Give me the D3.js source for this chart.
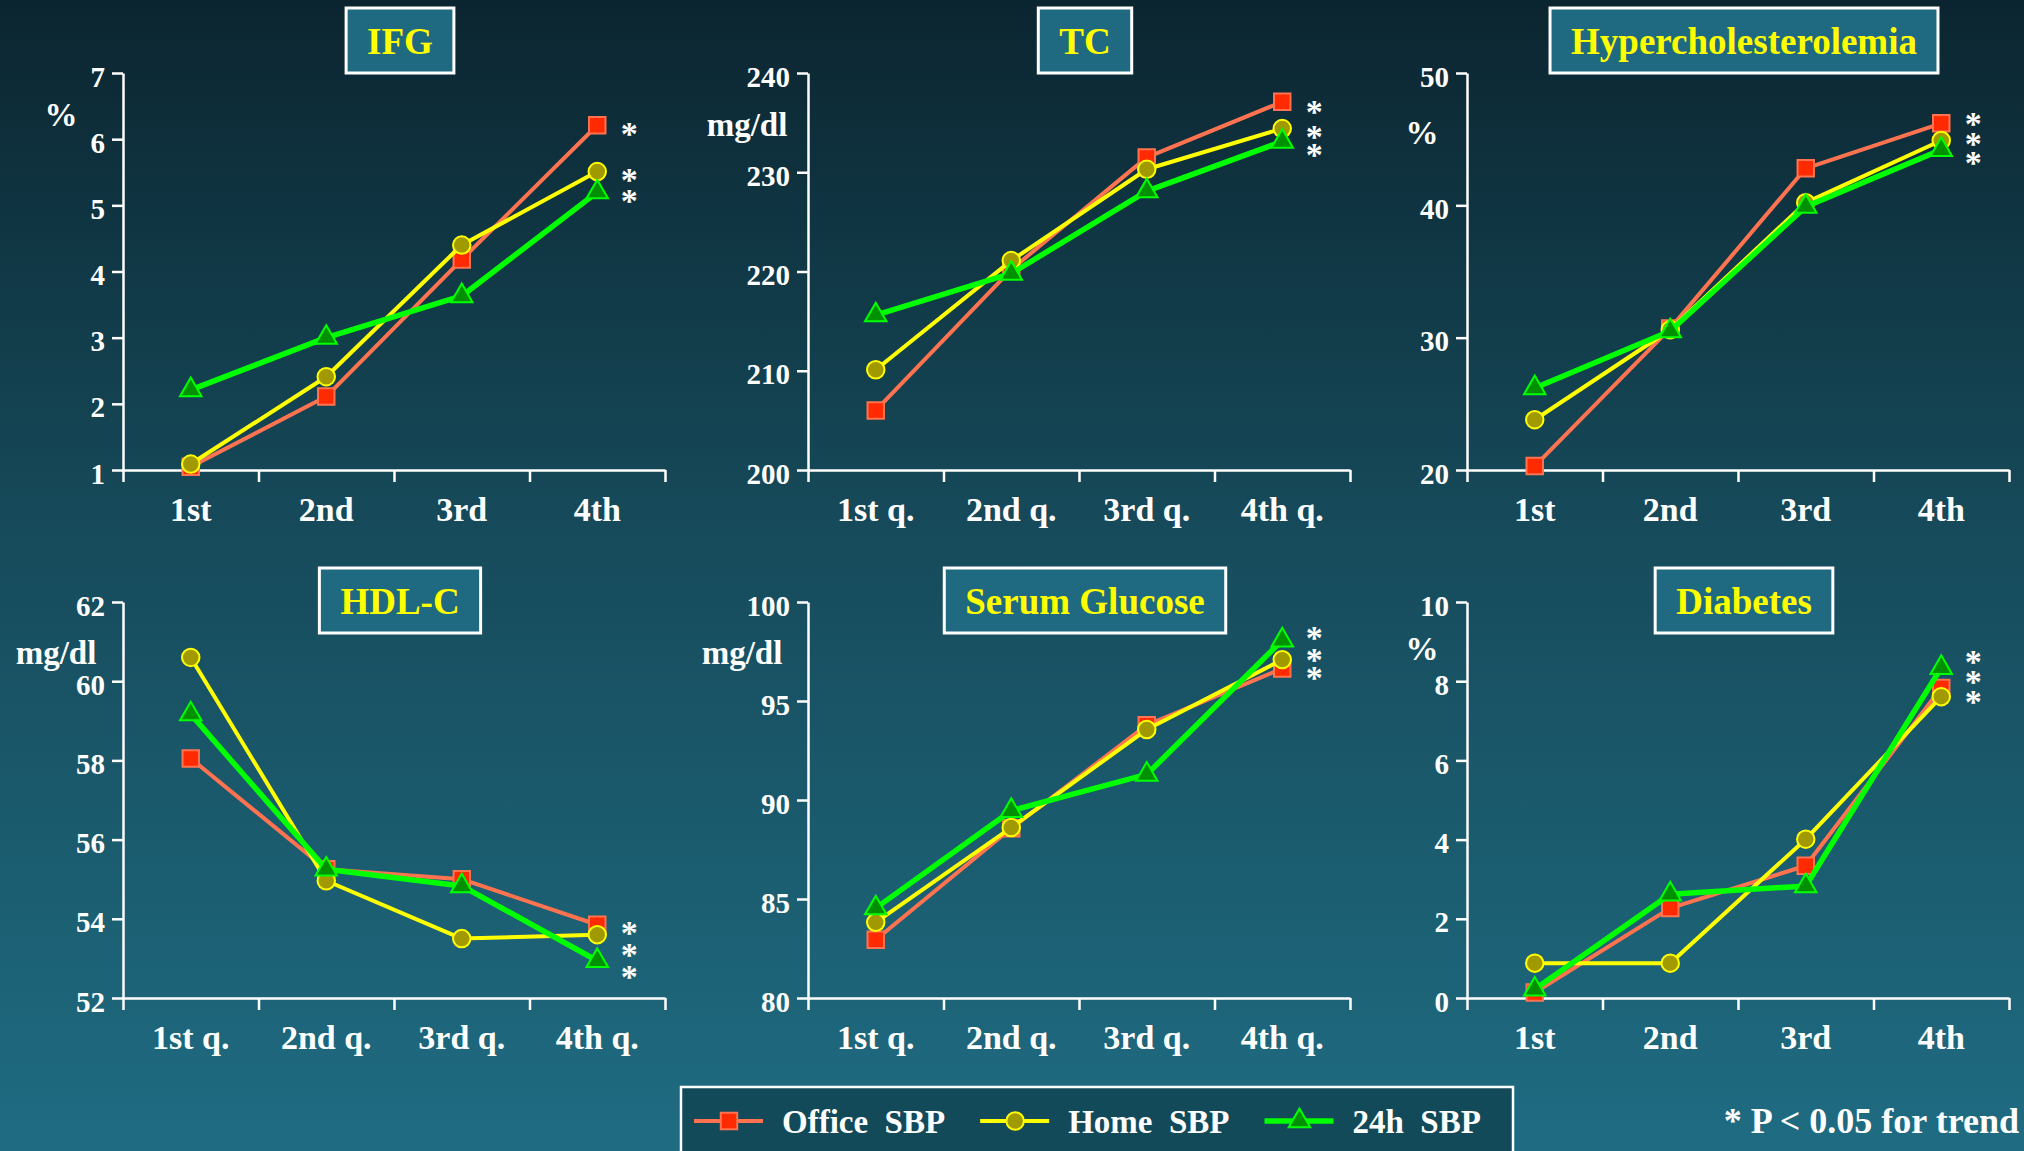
<!DOCTYPE html>
<html>
<head>
<meta charset="utf-8">
<script src="https://cdn.jsdelivr.net/npm/d3@7"></script>
<style>
  html, body { margin: 0; padding: 0; background: #134352; overflow: hidden; }
  text { font-family: "Liberation Serif", "Times New Roman", serif; font-weight: bold; }
</style>
</head>
<body>
<script>
var width = 2024;
var height = 1151;

// -- data --
var quartiles = ["1st", "2nd", "3rd", "4th"];
var quartilesQ = ["1st q.", "2nd q.", "3rd q.", "4th q."];
var seriesNames = ["Office  SBP", "Home  SBP", "24h  SBP"];

var ifgOffice = [1.05, 2.11, 4.18, 6.21];
var ifgHome = [1.09, 2.41, 4.40, 5.51];
var ifg24h = [2.21, 3.00, 3.63, 5.20];
var ifgTicks = [1, 2, 3, 4, 5, 6, 7];
var ifgStars = [6.15, 5.46, 5.14];

var tcOffice = [206.0, 220.2, 231.5, 237.1];
var tcHome = [210.1, 221.1, 230.3, 234.4];
var tc24h = [215.6, 219.8, 228.1, 233.1];
var tcTicks = [200, 210, 220, 230, 240];
var tcStars = [236.6, 234.1, 232.2];

var hypOffice = [20.3, 30.7, 42.8, 46.2];
var hypHome = [23.8, 30.6, 40.2, 44.9];
var hyp24h = [26.2, 30.5, 39.9, 44.2];
var hypTicks = [20, 30, 40, 50];
var hypStars = [46.5, 45.0, 43.6];

var hdlOffice = [58.05, 55.25, 55.0, 53.85];
var hdlHome = [60.6, 54.96, 53.5, 53.6];
var hdl24h = [59.17, 55.25, 54.83, 52.94];
var hdlTicks = [52, 54, 56, 58, 60, 62];
var hdlStars = [53.77, 53.21, 52.66];

var gluOffice = [82.94, 88.57, 93.78, 96.64];
var gluHome = [83.82, 88.61, 93.56, 97.09];
var glu24h = [84.54, 89.46, 91.29, 98.07];
var gluTicks = [80, 85, 90, 95, 100];
var gluStars = [98.43, 97.32, 96.41];

var dmOffice = [0.14, 2.27, 3.34, 7.83];
var dmHome = [0.88, 0.88, 4.01, 7.61];
var dm24h = [0.22, 2.62, 2.83, 8.34];
var dmTicks = [0, 2, 4, 6, 8, 10];
var dmStars = [8.61, 8.11, 7.60];

var panels = [
  { title: "IFG", unit: "%", cats: quartiles, ticks: ifgTicks, series: [ifgOffice, ifgHome, ifg24h], stars: ifgStars },
  { title: "TC", unit: "mg/dl", cats: quartilesQ, ticks: tcTicks, series: [tcOffice, tcHome, tc24h], stars: tcStars },
  { title: "Hypercholesterolemia", unit: "%", cats: quartiles, ticks: hypTicks, series: [hypOffice, hypHome, hyp24h], stars: hypStars },
  { title: "HDL-C", unit: "mg/dl", cats: quartilesQ, ticks: hdlTicks, series: [hdlOffice, hdlHome, hdl24h], stars: hdlStars },
  { title: "Serum Glucose", unit: "mg/dl", cats: quartilesQ, ticks: gluTicks, series: [gluOffice, gluHome, glu24h], stars: gluStars },
  { title: "Diabetes", unit: "%", cats: quartiles, ticks: dmTicks, series: [dmOffice, dmHome, dm24h], stars: dmStars }
];

// -- layout (pixels) --
var panelW = 542;
var layout = [
  { x: 123,  y: 73,  h: 397, titleY: 8,   unitDx: -62, unitDy: 53 },
  { x: 808,  y: 73,  h: 397, titleY: 8,   unitDx: -61, unitDy: 63 },
  { x: 1467, y: 73,  h: 397, titleY: 8,   unitDx: -45, unitDy: 71 },
  { x: 123,  y: 602, h: 396, titleY: 568, unitDx: -67, unitDy: 62 },
  { x: 808,  y: 602, h: 396, titleY: 568, unitDx: -66, unitDy: 62 },
  { x: 1467, y: 602, h: 396, titleY: 568, unitDx: -45, unitDy: 58 }
];

var lineColors = ["#ff7350", "#ffff00", "#00ff00"];
var lineWidths = [4, 4, 5.5];
var markFills = ["#ff2a00", "#a09a00", "#009000"];
var markStrokes = ["#ff7350", "#ffff00", "#00ff00"];
var markTypes = [d3.symbolSquare, d3.symbolCircle, d3.symbolTriangle];
var markSizes = [270, 240, 200];

var svg = d3.select("body").append("svg")
    .attr("width", width)
    .attr("height", height);

var grad = svg.append("defs").append("linearGradient")
    .attr("id", "bg")
    .attr("x1", 0).attr("y1", 0).attr("x2", 0).attr("y2", 1);
grad.append("stop").attr("offset", "0%").attr("stop-color", "#0b2530");
grad.append("stop").attr("offset", "45%").attr("stop-color", "#164a5a");
grad.append("stop").attr("offset", "100%").attr("stop-color", "#1f6c82");

svg.append("rect")
    .attr("width", width)
    .attr("height", height)
    .attr("fill", "url(#bg)");

panels.forEach(function(p, i) {
  var L = layout[i];
  var g = svg.append("g")
      .attr("transform", "translate(" + L.x + "," + L.y + ")");

  var yScale = d3.scaleLinear()
      .domain(d3.extent(p.ticks))
      .range([L.h, 0]);
  var xBand = d3.scaleBand()
      .domain(p.cats)
      .range([0, panelW]);
  var xEdge = d3.scaleLinear()
      .domain([0, p.cats.length])
      .range([0, panelW]);
  var cx = function(j) { return xBand(p.cats[j]) + xBand.bandwidth() / 2; };

  // -- axes --
  var yAxis = g.append("g")
      .call(d3.axisLeft(yScale)
        .tickValues(p.ticks)
        .tickSize(11)
        .tickSizeOuter(0)
        .tickPadding(7)
        .tickFormat(d3.format("d")));
  yAxis.selectAll("text")
      .attr("dy", "0.45em")
      .attr("fill", "#fff")
      .attr("font-size", 29);

  g.append("g")
      .attr("transform", "translate(0," + L.h + ")")
      .call(d3.axisBottom(xEdge)
        .tickValues(d3.range(p.cats.length + 1))
        .tickSize(12)
        .tickSizeOuter(0)
        .tickFormat(""));

  var xLab = g.append("g")
      .attr("transform", "translate(0," + L.h + ")")
      .call(d3.axisBottom(xBand).tickSize(0).tickPadding(27));
  xLab.select(".domain").remove();
  xLab.selectAll("text")
      .attr("fill", "#fff")
      .attr("font-size", 34);

  g.selectAll(".domain, .tick line")
      .attr("stroke", "#fff")
      .attr("stroke-width", 2.5);

  // -- series --
  var line = d3.line()
      .x(function(d, j) { return cx(j); })
      .y(function(d) { return yScale(d); });

  p.series.forEach(function(vals, s) {
    g.append("path")
        .attr("d", line(vals))
        .attr("fill", "none")
        .attr("stroke", lineColors[s])
        .attr("stroke-width", lineWidths[s])
        .attr("stroke-linejoin", "round");
    g.selectAll(".mark" + s)
        .data(vals)
        .enter()
        .append("path")
        .attr("class", "mark" + s)
        .attr("d", d3.symbol().type(markTypes[s]).size(markSizes[s]))
        .attr("transform", function(d, j) {
          return "translate(" + cx(j) + "," + yScale(d) + ")";
        })
        .attr("fill", markFills[s])
        .attr("stroke", markStrokes[s])
        .attr("stroke-width", 2);
  });

  // -- significance stars: one text, one glyph position per series --
  var sx = cx(p.cats.length - 1) + 32;
  g.append("text")
      .attr("x", p.stars.map(function() { return sx; }).join(" "))
      .attr("y", p.stars.map(function(d) { return yScale(d) + 16; }).join(" "))
      .attr("text-anchor", "middle")
      .attr("fill", "#fff")
      .attr("font-size", 34)
      .text(p.stars.map(function() { return "*"; }).join(""));

  // -- unit --
  g.append("text")
      .attr("x", L.unitDx)
      .attr("y", L.unitDy)
      .attr("text-anchor", "middle")
      .attr("fill", "#fff")
      .attr("font-size", 33)
      .text(p.unit);

  // -- title box --
  var tcx = L.x + panelW / 2 + 6;
  var tbox = svg.append("rect");
  var ttext = svg.append("text")
      .attr("x", tcx)
      .attr("y", L.titleY + 46)
      .attr("text-anchor", "middle")
      .attr("fill", "#ffff00")
      .attr("font-size", 37)
      .text(p.title);
  var tw = ttext.node().getComputedTextLength();
  tbox.attr("x", tcx - tw / 2 - 21)
      .attr("y", L.titleY)
      .attr("width", tw + 42)
      .attr("height", 65)
      .attr("fill", "#1f6a80")
      .attr("stroke", "#fff")
      .attr("stroke-width", 3);
});

// -- legend --
svg.append("rect")
    .attr("x", 681)
    .attr("y", 1087)
    .attr("width", 832)
    .attr("height", 80)
    .attr("fill", "#134a5a")
    .attr("stroke", "#fff")
    .attr("stroke-width", 2.5);

var lx = 694;
var ly = 1121;
seriesNames.forEach(function(name, s) {
  svg.append("line")
      .attr("x1", lx).attr("x2", lx + 69)
      .attr("y1", ly).attr("y2", ly)
      .attr("stroke", lineColors[s])
      .attr("stroke-width", lineWidths[s]);
  svg.append("path")
      .attr("d", d3.symbol().type(markTypes[s]).size(markSizes[s]))
      .attr("transform", "translate(" + (lx + 35) + "," + ly + ")")
      .attr("fill", markFills[s])
      .attr("stroke", markStrokes[s])
      .attr("stroke-width", 2);
  var t = svg.append("text")
      .attr("x", lx + 88)
      .attr("y", ly + 12)
      .attr("fill", "#fff")
      .attr("font-size", 33)
      .style("white-space", "pre")
      .text(name);
  lx = lx + 88 + t.node().getComputedTextLength() + 35;
});

svg.append("text")
    .attr("x", 2019)
    .attr("y", ly + 12)
    .attr("text-anchor", "end")
    .attr("fill", "#fff")
    .attr("font-size", 36)
    .text("* P < 0.05 for trend");
</script>
</body>
</html>
